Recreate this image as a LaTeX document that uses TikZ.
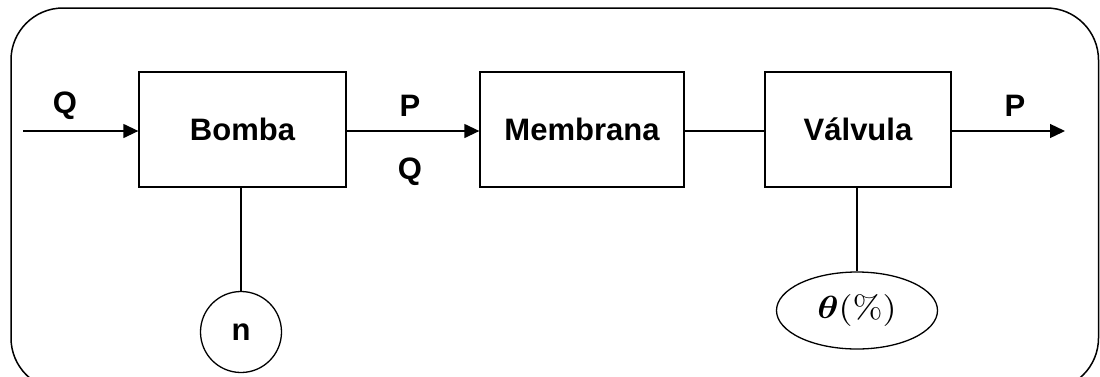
\documentclass[tikz,border=0pt]{standalone}
\usepackage{amsmath}
\usepackage{graphicx}
\usepackage[no-math]{fontspec}
\setmainfont{Liberation Sans}
\usetikzlibrary{shapes.geometric,arrows.meta}
\begin{document}
\begin{tikzpicture}[x=1pt,y=-1pt,
  blk/.style={draw,line width=1.3pt,minimum width=206pt,minimum height=115pt,inner sep=0pt,font=\fontsize{31}{36}\selectfont\bfseries},
  lbl/.style={font=\fontsize{31}{36}\selectfont\bfseries,inner sep=0pt},
  conn/.style={line width=1.3pt},
  arr/.style={line width=1.3pt,-{Triangle[length=15pt,width=14pt]}}]
\useasboundingbox (0,0) rectangle (1100,376);
\draw[line width=1.5pt,rounded corners=52pt] (11,8) rectangle (1098.5,390);
\node[blk,minimum width=207pt] (bomba) at (242.5,129.5) {Bomba};
\node[blk,minimum width=204pt] (membrana) at (582,129.5) {Membrana};
\node[blk,minimum width=186pt] (valvula) at (858,129.5) {Válvula};
\node[draw,circle,line width=1.3pt,minimum size=81pt,inner sep=0pt,lbl] (n) at (241,332) {n};
\node[draw,ellipse,line width=1.3pt,minimum width=161pt,minimum height=77pt,inner sep=0pt] (theta) at (857,310.5) {\scalebox{3.6}[3.2]{$\boldsymbol{\theta}(\%)$}};
\coordinate (in) at (23,131);
\coordinate (out) at (1065,131);
\draw[arr] (in) -- (in -| bomba.west);
\draw[arr] (bomba.east |- in) -- (membrana.west |- in);
\draw[conn] (membrana.east |- in) -- (valvula.west |- in);
\draw[arr] (valvula.east |- in) -- (out);
\draw[conn] (bomba.south -| n.north) -- (n.north);
\draw[conn] (valvula.south -| theta.north) -- (theta.north);
\node[lbl] (q1) at (65,106) {Q};
\node[lbl] (p1) at (410,106) {P};
\node[lbl] (q2) at (410,172) {Q};
\node[lbl] (p2) at (1015,106) {P};
\end{tikzpicture}
\end{document}
